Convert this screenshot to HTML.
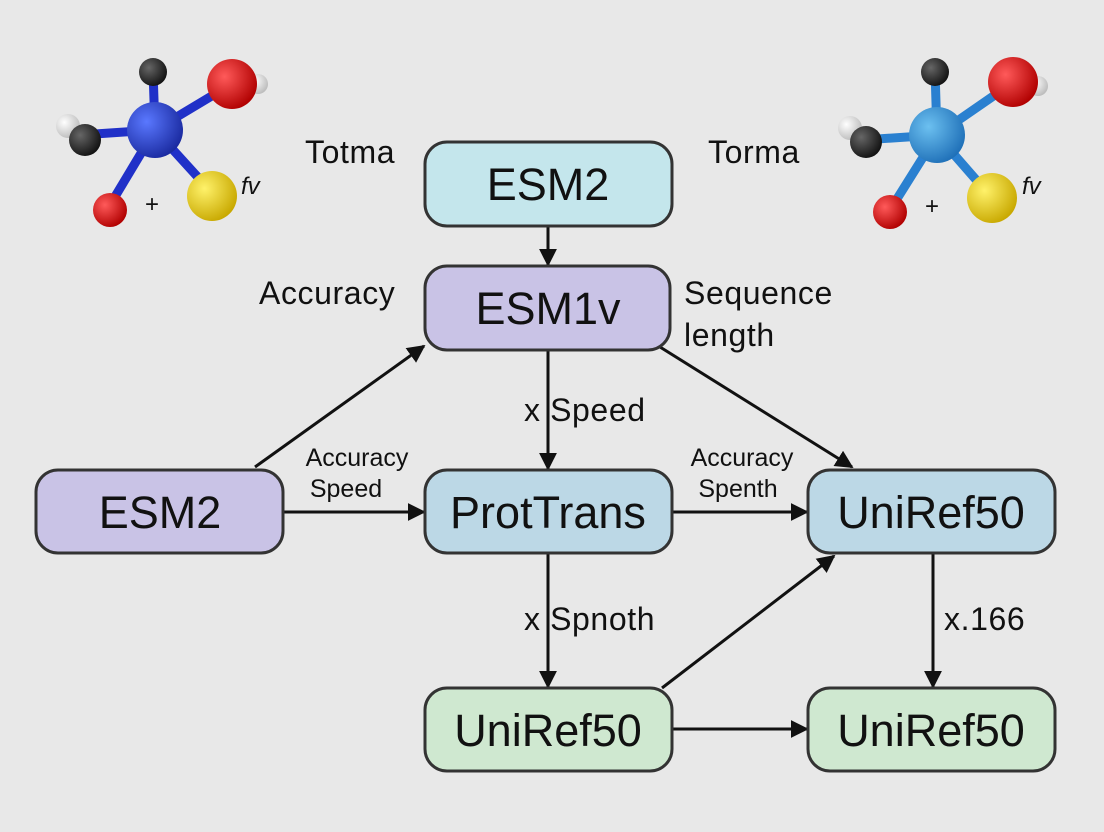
<!DOCTYPE html>
<html><head><meta charset="utf-8"><style>
html,body{margin:0;padding:0;background:#e8e8e8}
svg{display:block}
text{font-family:"Liberation Sans",sans-serif;fill:#111}
</style></head><body>
<svg width="1104" height="832" viewBox="0 0 1104 832" xmlns="http://www.w3.org/2000/svg">
<defs>
<marker id="ar" viewBox="0 0 10 10" refX="9" refY="5" markerWidth="18" markerHeight="18" orient="auto" markerUnits="userSpaceOnUse"><path d="M0,0 L10,5 L0,10 z" fill="#111"/></marker>
<radialGradient id="gb" cx="35%" cy="35%" r="70%"><stop offset="0" stop-color="#5a78ff"/><stop offset="1" stop-color="#1a2aa0"/></radialGradient>
<radialGradient id="gb2" cx="35%" cy="35%" r="70%"><stop offset="0" stop-color="#6cc0f0"/><stop offset="1" stop-color="#1f70b8"/></radialGradient>
<radialGradient id="gr" cx="35%" cy="35%" r="70%"><stop offset="0" stop-color="#ff5a5a"/><stop offset="1" stop-color="#b00000"/></radialGradient>
<radialGradient id="gy" cx="35%" cy="35%" r="70%"><stop offset="0" stop-color="#fff26a"/><stop offset="1" stop-color="#c8a800"/></radialGradient>
<radialGradient id="gk" cx="35%" cy="35%" r="70%"><stop offset="0" stop-color="#666"/><stop offset="1" stop-color="#111"/></radialGradient>
<radialGradient id="gw" cx="35%" cy="35%" r="70%"><stop offset="0" stop-color="#fff"/><stop offset="1" stop-color="#bbb"/></radialGradient>
</defs>
<rect width="1104" height="832" fill="#e8e8e8"/>

<!-- left molecule -->
<g>
<g stroke="#2030c8" stroke-width="9" stroke-linecap="round">
<line x1="153" y1="70" x2="155" y2="130"/>
<line x1="155" y1="130" x2="225" y2="88"/>
<line x1="155" y1="130" x2="80" y2="135"/>
<line x1="155" y1="130" x2="110" y2="205"/>
<line x1="155" y1="130" x2="205" y2="185"/>
</g>
<circle cx="68" cy="126" r="12" fill="url(#gw)"/>
<circle cx="153" cy="72" r="14" fill="url(#gk)"/>
<circle cx="85" cy="140" r="16" fill="url(#gk)"/>
<circle cx="258" cy="84" r="10" fill="url(#gw)"/>
<circle cx="232" cy="84" r="25" fill="url(#gr)"/>
<circle cx="155" cy="130" r="28" fill="url(#gb)"/>
<circle cx="110" cy="210" r="17" fill="url(#gr)"/>
<circle cx="212" cy="196" r="25" fill="url(#gy)"/>
<text x="241" y="194" font-size="24" font-style="italic">fv</text>
<text x="145" y="212" font-size="24">+</text>
</g>
<!-- right molecule -->
<g>
<g stroke="#2a80d0" stroke-width="9" stroke-linecap="round">
<line x1="935" y1="70" x2="937" y2="135"/>
<line x1="937" y1="135" x2="1005" y2="88"/>
<line x1="937" y1="135" x2="862" y2="140"/>
<line x1="937" y1="135" x2="890" y2="210"/>
<line x1="937" y1="135" x2="985" y2="190"/>
</g>
<circle cx="850" cy="128" r="12" fill="url(#gw)"/>
<circle cx="935" cy="72" r="14" fill="url(#gk)"/>
<circle cx="866" cy="142" r="16" fill="url(#gk)"/>
<circle cx="1038" cy="86" r="10" fill="url(#gw)"/>
<circle cx="1013" cy="82" r="25" fill="url(#gr)"/>
<circle cx="937" cy="135" r="28" fill="url(#gb2)"/>
<circle cx="890" cy="212" r="17" fill="url(#gr)"/>
<circle cx="992" cy="198" r="25" fill="url(#gy)"/>
<text x="1022" y="194" font-size="24" font-style="italic">fv</text>
<text x="925" y="214" font-size="24">+</text>
</g>

<!-- arrows -->
<g stroke="#111" stroke-width="3" marker-end="url(#ar)">
<line x1="548" y1="226" x2="548" y2="265"/>
<line x1="255" y1="467" x2="424" y2="346"/>
<line x1="283" y1="512" x2="424" y2="512"/>
<line x1="548" y1="350" x2="548" y2="469"/>
<line x1="660" y1="347" x2="852" y2="467"/>
<line x1="672" y1="512" x2="807" y2="512"/>
<line x1="548" y1="553" x2="548" y2="687"/>
<line x1="662" y1="688" x2="834" y2="556"/>
<line x1="672" y1="729" x2="807" y2="729"/>
<line x1="933" y1="553" x2="933" y2="687"/>
</g>

<!-- boxes -->
<g stroke="#333" stroke-width="3">
<rect x="425" y="142" width="247" height="84" rx="22" fill="#c4e6ec"/>
<rect x="425" y="266" width="245" height="84" rx="22" fill="#c9c3e6"/>
<rect x="36" y="470" width="247" height="83" rx="22" fill="#c9c3e6"/>
<rect x="425" y="470" width="247" height="83" rx="22" fill="#bcd8e6"/>
<rect x="808" y="470" width="247" height="83" rx="22" fill="#bcd8e6"/>
<rect x="425" y="688" width="247" height="83" rx="22" fill="#cfe8d0"/>
<rect x="808" y="688" width="247" height="83" rx="22" fill="#cfe8d0"/>
</g>
<g font-size="45" text-anchor="middle">
<text x="548" y="200">ESM2</text>
<text x="548" y="324">ESM1v</text>
<text x="160" y="528">ESM2</text>
<text x="548" y="528">ProtTrans</text>
<text x="931" y="528">UniRef50</text>
<text x="548" y="746">UniRef50</text>
<text x="931" y="746">UniRef50</text>
</g>
<g font-size="32" letter-spacing="0.6">
<text x="305" y="163">Totma</text>
<text x="708" y="163">Torma</text>
<text x="259" y="304">Accuracy</text>
<text x="684" y="304">Sequence</text>
<text x="684" y="346">length</text>
<text x="524" y="421">x Speed</text>
<text x="524" y="630">x Spnoth</text>
<text x="944" y="630">x.166</text>
</g>
<g font-size="25" text-anchor="middle">
<text x="357" y="466">Accuracy</text>
<text x="346" y="497">Speed</text>
<text x="742" y="466">Accuracy</text>
<text x="738" y="497">Spenth</text>
</g>
</svg>
</body></html>
